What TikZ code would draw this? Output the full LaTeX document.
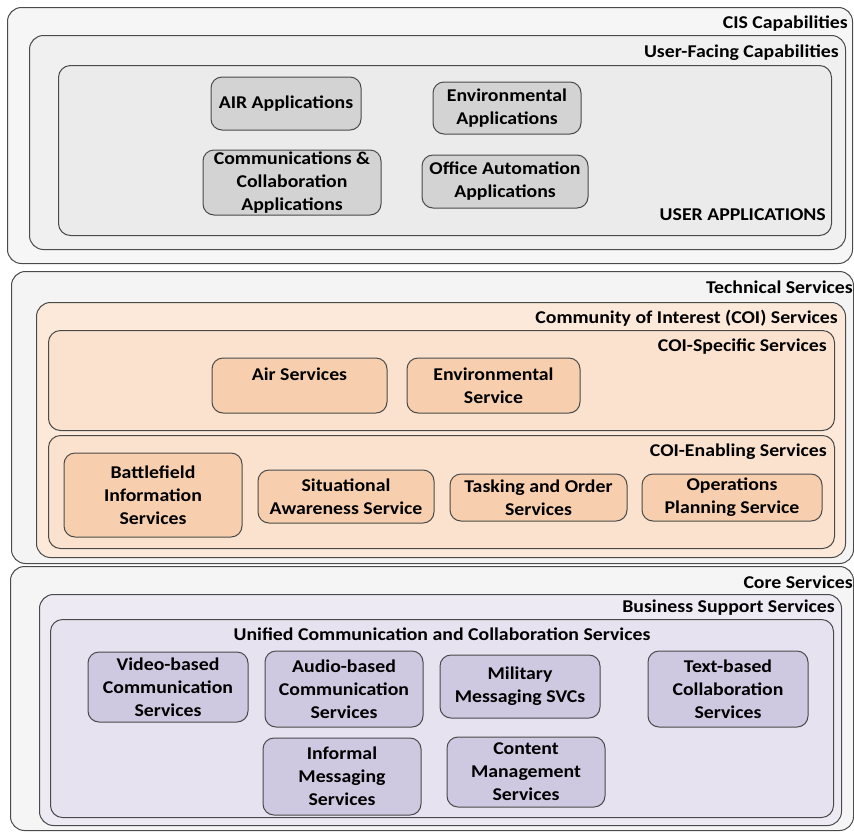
\documentclass[tikz,border=0pt]{standalone}
\usepackage{fontspec}
\setmainfont{Carlito}[FakeStretch=1.1]
\usepackage{xcolor}

\definecolor{edgegray}{HTML}{4A4A4A}
\definecolor{cisfill}{HTML}{F6F6F6}
\definecolor{uffill}{HTML}{F0F0F0}
\definecolor{uafill}{HTML}{EBEBEB}
\definecolor{appfill}{HTML}{D3D3D3}
\definecolor{techfill}{HTML}{F4F4F4}
\definecolor{coifill}{HTML}{FCE9DA}
\definecolor{coiinfill}{HTML}{FBE2CF}
\definecolor{svcfill}{HTML}{F7CFAE}
\definecolor{corefill}{HTML}{F5F5F5}
\definecolor{bssfill}{HTML}{EDEAF4}
\definecolor{uccfill}{HTML}{E6E2F0}
\definecolor{ucfill}{HTML}{CEC8E0}

\begin{document}
\begin{tikzpicture}[x=1pt, y=-1pt,
        layer/.style={
            draw=edgegray, line width=1pt,
            rounded corners=#1,
            anchor=north west, inner sep=0pt,
          },
          layer/.default=14pt,
        layertitle/.style={
            anchor=east, inner sep=0pt,
            font=\bfseries\fontsize{18}{23}\selectfont,
          },
        item/.style={
            draw=edgegray, line width=1pt,
            rounded corners=11pt, align=center, inner sep=0pt,
            font=\bfseries\fontsize{18}{23}\selectfont,
          },
        ]
        \useasboundingbox (0,0) rectangle (854,831);
        % CIS capabilities
        \node[layer, fill=cisfill, minimum width=845pt, minimum height=256pt] (cis) at (7,7) {};
        \node[layer, fill=uffill, minimum width=816pt, minimum height=214pt] (ufc) at (29,35) {};
        \node[layer=12pt, fill=uafill, minimum width=773pt, minimum height=170pt] (uapp) at (58,65) {};
        \node[layertitle] (cist) at (848,24) {CIS Capabilities};
        \node[layertitle] (ufct) at (839,53) {User-Facing Capabilities};
        \node[layertitle] (uappt) at (826,215) {USER APPLICATIONS};
        \node[item, fill=appfill, minimum width=150pt, minimum height=53pt] (airapp) at (286,103.5) {AIR Applications};
        \node[item, fill=appfill, minimum width=148pt, minimum height=52pt] (envapp) at (507,108) {Environmental\\Applications};
        \node[item, fill=appfill, minimum width=178pt, minimum height=65pt] (commapp) at (292,182.5) {Communications \&\\Collaboration\\Applications};
        \node[item, fill=appfill, minimum width=166pt, minimum height=53pt] (offapp) at (505,181.5) {Office Automation\\Applications};
        % technical services
        \node[layer, fill=techfill, minimum width=842pt, minimum height=292pt] (tech) at (11,271) {};
        \node[layer, fill=coifill, minimum width=809pt, minimum height=255pt] (coi) at (36,302) {};
        \node[layer=12pt, fill=coiinfill, minimum width=786pt, minimum height=100pt] (coisp) at (48,330) {};
        \node[layer=12pt, fill=coiinfill, minimum width=786pt, minimum height=113pt] (coien) at (48,435) {};
        \node[layertitle] (techt) at (853,287) {Technical Services};
        \node[layertitle] (coit) at (838,318) {Community of Interest (COI) Services};
        \node[layertitle] (coispt) at (827,347) {COI-Specific Services};
        \node[layertitle] (coient) at (827,452) {COI-Enabling Services};
        \node[item, fill=svcfill, minimum width=175pt, minimum height=55pt] (airsvc) at (299.5,385.5) {Air Services\\\mbox{}};
        \node[item, fill=svcfill, minimum width=173pt, minimum height=55pt] (envsvc) at (493.5,385.5) {Environmental\\Service};
        \node[item, fill=svcfill, minimum width=178pt, minimum height=84pt] (bfis) at (153,495) {Battlefield\\Information\\Services};
        \node[item, fill=svcfill, minimum width=176pt, minimum height=53pt] (sas) at (346,496.5) {Situational\\Awareness Service};
        \node[item, fill=svcfill, minimum width=177pt, minimum height=47pt] (tos) at (538.5,497.5) {Tasking and Order\\Services};
        \node[item, fill=svcfill, minimum width=180pt, minimum height=47pt] (ops) at (732,497.5) {Operations\\Planning Service};
        % core services
        \node[layer, fill=corefill, minimum width=843pt, minimum height=264pt] (core) at (10,566) {};
        \node[layer, fill=bssfill, minimum width=802pt, minimum height=231pt] (bss) at (39,594) {};
        \node[layer=12pt, fill=uccfill, minimum width=783pt, minimum height=198pt] (ucc) at (50,619) {};
        \node[layertitle] (coret) at (853,582) {Core Services};
        \node[layertitle] (bsst) at (835,608) {Business Support Services};
        \node[layertitle, anchor=center] (ucct) at (442,634) {Unified Communication and Collaboration Services};
        \node[item, fill=ucfill, minimum width=160pt, minimum height=70pt] (video) at (168,687) {Video-based\\Communication\\Services};
        \node[item, fill=ucfill, minimum width=158pt, minimum height=76pt] (audio) at (344,689) {Audio-based\\Communication\\Services};
        \node[item, fill=ucfill, minimum width=160pt, minimum height=63pt] (mms) at (520,686.5) {Military\\Messaging SVCs};
        \node[item, fill=ucfill, minimum width=160pt, minimum height=76pt] (text) at (728,689) {Text-based\\Collaboration\\Services};
        \node[item, fill=ucfill, minimum width=158pt, minimum height=77pt] (ims) at (342,776.5) {Informal\\Messaging\\Services};
        \node[item, fill=ucfill, minimum width=158pt, minimum height=70pt] (cms) at (526,772) {Content\\Management\\Services};
    \end{tikzpicture}
\end{document}
